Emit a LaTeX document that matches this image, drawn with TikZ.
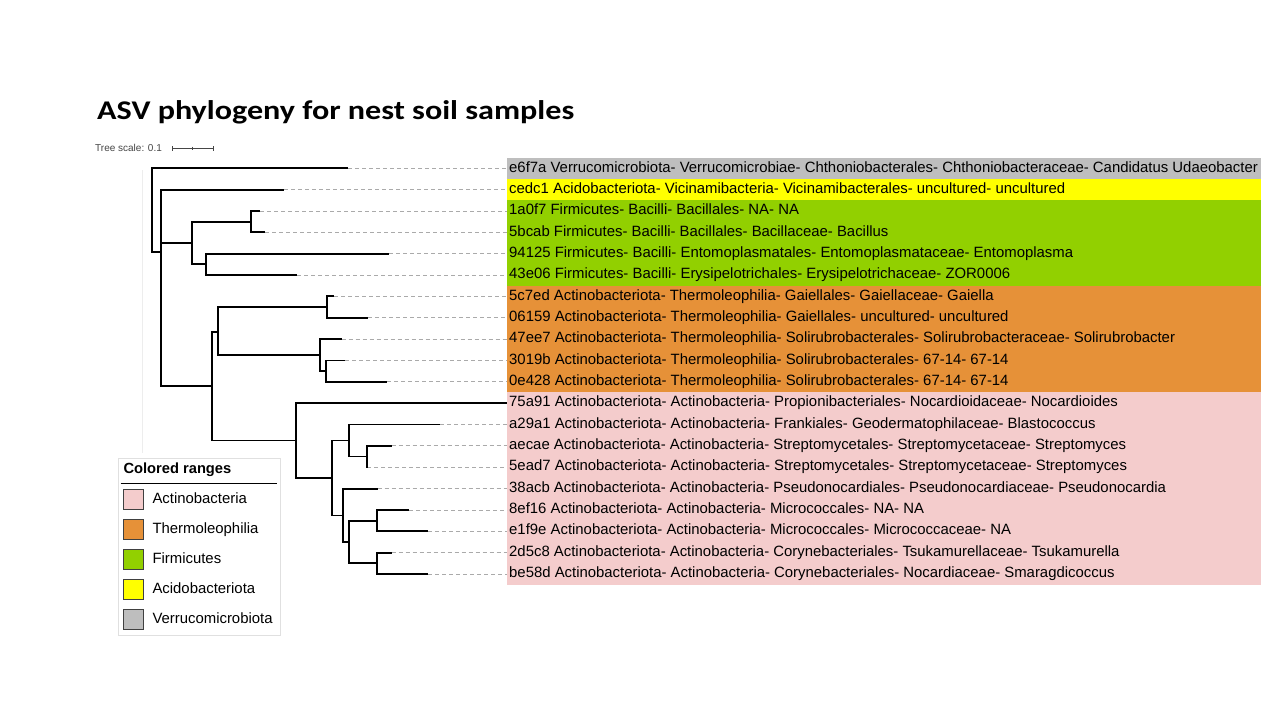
\documentclass[tikz,border=0pt]{standalone}
\usepackage{graphicx}
\usepackage{fontspec}
\setmainfont{Liberation Sans}
\newfontfamily\titlefont{Carlito}
\definecolor{rgray}{RGB}{190,190,190}
\definecolor{ryellow}{RGB}{255,255,0}
\definecolor{rgreen}{RGB}{146,208,0}
\definecolor{rorange}{RGB}{230,145,56}
\definecolor{rpink}{RGB}{244,204,204}
\definecolor{leadgray}{RGB}{170,170,170}
\definecolor{scalegray}{RGB}{70,70,70}
\begin{document}
\begin{tikzpicture}[x=1pt,y=-1pt,
  branch/.style={draw=black, line width=1.9pt, line join=miter},
  leader/.style={draw=leadgray, line width=0.8pt, dash pattern=on 4pt off 3pt},
  leaflabel/.style={anchor=west, inner xsep=2pt, inner ysep=0pt, text height=10.6pt, text depth=3.2pt, font=\fontsize{14.9}{17}\selectfont},
  swatch/.style={draw=black!75, line width=0.7pt, minimum width=20pt, minimum height=20pt, inner sep=0pt},
  legtext/.style={anchor=west, inner sep=0pt, text height=10.6pt, text depth=3.2pt, font=\fontsize{14.9}{17}\selectfont}]
\useasboundingbox[fill=white] (0,0) rectangle (1280,720);

% title
\node[anchor=base west, inner sep=0pt, font=\titlefont\bfseries\fontsize{27}{32}\selectfont] (title) at (97,119.3) {\scalebox{1.19}[1]{ASV phylogeny for nest soil samples}};

% tree scale
\node[anchor=west, inner sep=0pt, text=scalegray, font=\fontsize{10}{12}\selectfont] (tscale) at (95,148) {Tree scale: 0.1};
\coordinate (sbA) at (172,148);
\coordinate (sbB) at (213,148);
\draw[scalegray, line width=0.7pt] (sbA) -- (sbB);
\draw[scalegray, line width=0.7pt] ([yshift=-2.5pt]sbA) -- ([yshift=2.5pt]sbA);
\draw[scalegray, line width=0.7pt] ([yshift=-2.5pt]sbB) -- ([yshift=2.5pt]sbB);
\draw[scalegray, line width=0.5pt] (192.5,146.5) -- (192.5,149.5);

% colored bands
\fill[rgray]   (507,157.6) rectangle (1261,178.98);
\fill[ryellow] (507,178.98) rectangle (1261,200.33);
\fill[rgreen]  (507,200.33) rectangle (1261,285.73);
\fill[rorange] (507,285.73) rectangle (1261,392.48);
\fill[rpink]   (507,392.48) rectangle (1261,584.6);

% faint guide line
\draw[black!7, line width=1pt] (142,170) -- (142,453);

% leaves: index / tip x / label
\foreach \i/\tx/\lab in {
 0/348/{e6f7a Verrucomicrobiota- Verrucomicrobiae- Chthoniobacterales- Chthoniobacteraceae- Candidatus Udaeobacter},
 1/284/{cedc1 Acidobacteriota- Vicinamibacteria- Vicinamibacterales- uncultured- uncultured},
 2/260/{1a0f7 Firmicutes- Bacilli- Bacillales- NA- NA},
 3/265/{5bcab Firmicutes- Bacilli- Bacillales- Bacillaceae- Bacillus},
 4/389/{94125 Firmicutes- Bacilli- Entomoplasmatales- Entomoplasmataceae- Entomoplasma},
 5/297.3/{43e06 Firmicutes- Bacilli- Erysipelotrichales- Erysipelotrichaceae- ZOR0006},
 6/334/{5c7ed Actinobacteriota- Thermoleophilia- Gaiellales- Gaiellaceae- Gaiella},
 7/368.3/{06159 Actinobacteriota- Thermoleophilia- Gaiellales- uncultured- uncultured},
 8/341.7/{47ee7 Actinobacteriota- Thermoleophilia- Solirubrobacterales- Solirubrobacteraceae- Solirubrobacter},
 9/345/{3019b Actinobacteriota- Thermoleophilia- Solirubrobacterales- 67-14- 67-14},
 10/387.3/{0e428 Actinobacteriota- Thermoleophilia- Solirubrobacterales- 67-14- 67-14},
 11/507/{75a91 Actinobacteriota- Actinobacteria- Propionibacteriales- Nocardioidaceae- Nocardioides},
 12/440/{a29a1 Actinobacteriota- Actinobacteria- Frankiales- Geodermatophilaceae- Blastococcus},
 13/391.7/{aecae Actinobacteriota- Actinobacteria- Streptomycetales- Streptomycetaceae- Streptomyces},
 14/367.3/{5ead7 Actinobacteriota- Actinobacteria- Streptomycetales- Streptomycetaceae- Streptomyces},
 15/377.7/{38acb Actinobacteriota- Actinobacteria- Pseudonocardiales- Pseudonocardiaceae- Pseudonocardia},
 16/409/{8ef16 Actinobacteriota- Actinobacteria- Micrococcales- NA- NA},
 17/428.3/{e1f9e Actinobacteriota- Actinobacteria- Micrococcales- Micrococcaceae- NA},
 18/391.7/{2d5c8 Actinobacteriota- Actinobacteria- Corynebacteriales- Tsukamurellaceae- Tsukamurella},
 19/428.3/{be58d Actinobacteriota- Actinobacteria- Corynebacteriales- Nocardiaceae- Smaragdicoccus}}{
  \pgfmathsetmacro{\yy}{168.3+21.35*\i}
  \node[leaflabel] (l\i) at (507,\yy) {\lab};
  \coordinate (t\i) at (\tx,\yy);
  \draw[leader] (t\i) -- (l\i.west);
}

% internal nodes
\coordinate (root) at (152,210);
\coordinate (A)  at (161,252);
\coordinate (F)  at (191.7,243);
\coordinate (B)  at (250.7,221.7);
\coordinate (C)  at (205.7,264.4);
\coordinate (D)  at (212,386.2);
\coordinate (T)  at (218.3,331.7);
\coordinate (G)  at (326.7,307.1);
\coordinate (S)  at (320,355);
\coordinate (S2) at (325.7,371.1);
\coordinate (P)  at (296,440.5);
\coordinate (Q)  at (331.7,478);
\coordinate (R)  at (349,440.5);
\coordinate (R2) at (366.7,456.5);
\coordinate (U)  at (343.3,515.5);
\coordinate (V)  at (349,542);
\coordinate (W)  at (376.7,520.6);
\coordinate (X)  at (376.7,563.3);

% branches
\draw[branch] (root) |- (t0);
\draw[branch] (root) |- (A);
\draw[branch] (A) |- (t1);
\draw[branch] (A) |- (F);
\draw[branch] (A) |- (D);
\draw[branch] (F) |- (B);
\draw[branch] (F) |- (C);
\draw[branch] (B) |- (t2);
\draw[branch] (B) |- (t3);
\draw[branch] (C) |- (t4);
\draw[branch] (C) |- (t5);
\draw[branch] (D) |- (T);
\draw[branch] (D) |- (P);
\draw[branch] (T) |- (G);
\draw[branch] (T) |- (S);
\draw[branch] (G) |- (t6);
\draw[branch] (G) |- (t7);
\draw[branch] (S) |- (t8);
\draw[branch] (S) |- (S2);
\draw[branch] (S2) |- (t9);
\draw[branch] (S2) |- (t10);
\draw[branch] (P) |- (l11.west);
\draw[branch] (P) |- (Q);
\draw[branch] (Q) |- (R);
\draw[branch] (Q) |- (U);
\draw[branch] (R) |- (t12);
\draw[branch] (R) |- (R2);
\draw[branch] (R2) |- (t13);
\draw[branch] (R2) |- (t14);
\draw[branch] (U) |- (t15);
\draw[branch] (U) |- (V);
\draw[branch] (V) |- (W);
\draw[branch] (V) |- (X);
\draw[branch] (W) |- (t16);
\draw[branch] (W) |- (t17);
\draw[branch] (X) |- (t18);
\draw[branch] (X) |- (t19);

% legend
\draw[draw=black!12, fill=white, line width=0.8pt] (118.3,458.3) rectangle (280,635);
\node[anchor=west, inner sep=0pt, text height=10.6pt, text depth=3.2pt, font=\bfseries\fontsize{14.7}{17}\selectfont] (legtitle) at (123.3,470) {Colored ranges};
\draw[black, line width=0.8pt] (120.7,483.3) -- (276.7,483.3);
\foreach \j/\c/\t in {0/rpink/Actinobacteria, 1/rorange/Thermoleophilia, 2/rgreen/Firmicutes, 3/ryellow/Acidobacteriota, 4/rgray/Verrucomicrobiota}{
  \pgfmathsetmacro{\ly}{499.3+30*\j}
  \node[swatch, fill=\c] (sw\j) at (133.3,\ly) {};
  \node[legtext] (lt\j) at (152.3,\ly) {\t};
}
\end{tikzpicture}
\end{document}
